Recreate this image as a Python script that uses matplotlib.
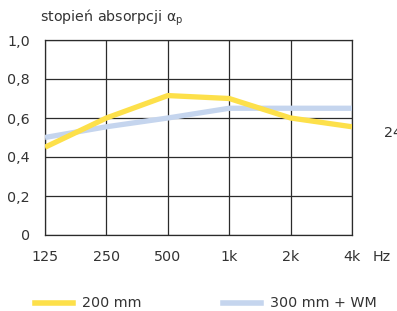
import matplotlib
matplotlib.use('Agg')
import matplotlib.pyplot as plt

# dane
freqs = ['125', '250', '500', '1k', '2k', '4k']
yticks = [0, 0.2, 0.4, 0.6, 0.8, 1.0]
ytick_labels = ['0', '0,2', '0,4', '0,6', '0,8', '1,0']
mm200 = [0.45, 0.60, 0.715, 0.70, 0.60, 0.555]
mm300_wm = [0.50, 0.555, 0.60, 0.65, 0.65, 0.65]

plt.rcParams['font.family'] = ['DejaVu Sans']
txt = '#333333'
fs = 10.3

fig = plt.figure(figsize=(3.97, 3.11), dpi=100)
ax = fig.add_axes([45 / 397, 1 - 235 / 311, 307 / 397, 195 / 311])

x = range(len(freqs))
ax.plot(x, mm300_wm, color='#c5d5ee', lw=3.8, solid_capstyle='butt', zorder=3)
ax.plot(x, mm200, color='#fde04a', lw=3.8, solid_capstyle='butt', zorder=4)

ax.set_xlim(0, len(freqs) - 1)
ax.set_ylim(0, 1.0)
ax.set_xticks(list(x))
ax.set_xticklabels(freqs)
ax.set_yticks(yticks)
ax.set_yticklabels(ytick_labels)
ax.grid(True, color='#2b2b2b', lw=0.9)
ax.set_axisbelow(True)
for s in ax.spines.values():
    s.set_color('#2b2b2b')
    s.set_linewidth(0.9)
ax.tick_params(length=0, labelsize=fs, colors=txt, pad=11)
ax.tick_params(axis='y', pad=11)

fig.text(40 / 397, 1 - 18 / 311, 'stopień absorpcji α$_\\mathregular{p}$', fontsize=fs,
         color=txt, va='center', ha='left')
fig.text(373 / 397, 1 - 257 / 311, 'Hz', fontsize=fs, color=txt, va='center', ha='left')
fig.text(384 / 397, 1 - 133 / 311, '24', fontsize=fs, color=txt, va='center', ha='left')

# legenda
fig.add_artist(plt.Line2D([35 / 397, 73 / 397], [1 - 303 / 311] * 2, color='#fde04a', lw=4))
fig.text(82 / 397, 1 - 303 / 311, '200 mm', fontsize=fs, color=txt, va='center')
fig.add_artist(plt.Line2D([223 / 397, 261 / 397], [1 - 303 / 311] * 2, color='#c5d5ee', lw=4))
fig.text(270 / 397, 1 - 303 / 311, '300 mm + WM', fontsize=fs, color=txt, va='center')

fig.savefig('out.png', dpi=100)
